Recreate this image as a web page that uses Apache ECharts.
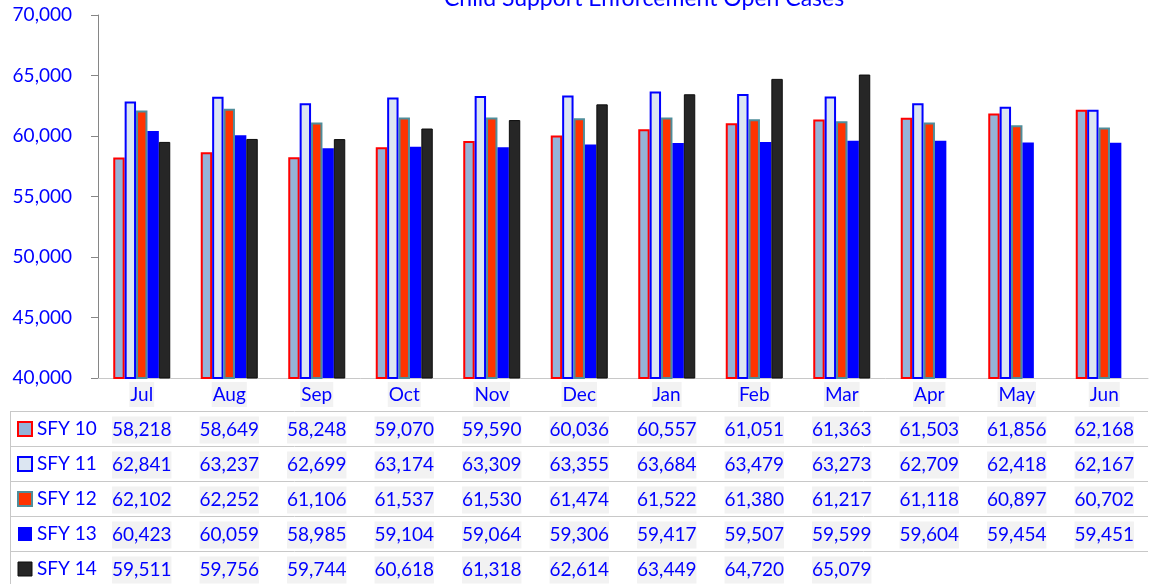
<!DOCTYPE html>
<html>
<head>
<meta charset="utf-8">
<script src="https://cdn.jsdelivr.net/npm/echarts@6/dist/echarts.min.js"></script>
<style>
  html, body { margin: 0; padding: 0; background: #fff; }
  #chart { width: 1150px; height: 584px; }
</style>
</head>
<body>
<div id="chart"></div>
<script>
const months = ['Jul', 'Aug', 'Sep', 'Oct', 'Nov', 'Dec', 'Jan', 'Feb', 'Mar', 'Apr', 'May', 'Jun']
const seriesNames = ['SFY 10', 'SFY 11', 'SFY 12', 'SFY 13', 'SFY 14']
const sfy10 = [58218, 58649, 58248, 59070, 59590, 60036, 60557, 61051, 61363, 61503, 61856, 62168]
const sfy11 = [62841, 63237, 62699, 63174, 63309, 63355, 63684, 63479, 63273, 62709, 62418, 62167]
const sfy12 = [62102, 62252, 61106, 61537, 61530, 61474, 61522, 61380, 61217, 61118, 60897, 60702]
const sfy13 = [60423, 60059, 58985, 59104, 59064, 59306, 59417, 59507, 59599, 59604, 59454, 59451]
const sfy14 = [59511, 59756, 59744, 60618, 61318, 62614, 63449, 64720, 65079, null, null, null]
const yMin = 40000
const yMax = 70000
const yStep = 5000

const allData = [sfy10, sfy11, sfy12, sfy13, sfy14]

// bar looks, same order as seriesNames
const looks = [
  { color: '#95b3d7', borderColor: '#ff0000', borderWidth: 2 },
  { color: '#dce6f2', borderColor: '#0000ff', borderWidth: 2 },
  { color: '#ff3300', borderColor: '#4f8d9a', borderWidth: 2 },
  { color: '#0000ff', borderColor: '#0000ff', borderWidth: 0 },
  { color: '#262626', borderColor: '#0d0d0d', borderWidth: 1 }
]

const FONT = 'Lato'
const BLUE = '#0000ff'
const LINE = '#c8c8c8'
const plotLeft = 98
const plotRight = 1148
const axisY = 378
const rowTop = 411.5
const rowH = 35

const fmt = v => (v == null ? '' : v.toLocaleString('en-US'))

const chart = echarts.init(document.getElementById('chart'))

// table rows: one extra category axis per series
const rowAxes = allData.map((vals, k) => ({
  type: 'category',
  data: months,
  gridIndex: 0,
  position: 'bottom',
  offset: rowTop + rowH * k - axisY,
  axisLine: { show: false },
  axisTick: { show: false },
  axisLabel: {
    interval: 0,
    margin: 7,
    formatter: (v, i) => (vals[i] == null ? '' : '{v|' + fmt(vals[i]) + '}'),
    rich: {
      v: {
        fontFamily: FONT, fontSize: 19, color: BLUE,
        backgroundColor: '#f2f2f2', lineHeight: 23, padding: [4, 0]
      }
    }
  }
}))

const tableLines = []
for (let k = 0; k < 5; k++) {
  tableLines.push({
    type: 'line',
    shape: { x1: 10, y1: rowTop + rowH * k, x2: plotRight, y2: rowTop + rowH * k },
    style: { stroke: LINE, lineWidth: 1 }
  })
}
tableLines.push({
  type: 'line',
  shape: { x1: 10.5, y1: rowTop, x2: 10.5, y2: 584 },
  style: { stroke: LINE, lineWidth: 1 }
})

const option = {
  animation: false,
  title: {
    text: 'Child Support Enforcement Open Cases',
    left: 444,
    top: -13,
    padding: 0,
    textStyle: { fontFamily: FONT, fontSize: 23, fontWeight: 'normal', color: BLUE }
  },
  legend: {
    orient: 'vertical',
    left: 17,
    top: rowTop + 6,
    padding: 0,
    height: 170,
    itemWidth: 14,
    itemHeight: 14,
    itemGap: 12,
    textStyle: { fontFamily: FONT, fontSize: 19, color: BLUE, lineHeight: 23 },
    data: seriesNames.map((name, i) => ({ name, icon: 'rect', itemStyle: looks[i] }))
  },
  grid: { left: plotLeft, right: 1150 - plotRight, top: 15, bottom: 584 - axisY },
  xAxis: [
    {
      type: 'category',
      data: months,
      axisLine: { lineStyle: { color: LINE } },
      axisTick: { length: 584 - axisY, lineStyle: { color: LINE } },
      axisLabel: {
        interval: 0,
        margin: 4,
        fontFamily: FONT, fontSize: 19, color: BLUE,
        backgroundColor: '#f2f2f2', lineHeight: 21, padding: [2, 1]
      }
    },
    ...rowAxes
  ],
  yAxis: {
    type: 'value',
    min: yMin,
    max: yMax,
    interval: yStep,
    axisLine: { show: true, lineStyle: { color: '#868686' } },
    axisTick: { show: true, length: 7, lineStyle: { color: '#868686' } },
    splitLine: { show: false },
    axisLabel: {
      margin: 26,
      fontFamily: FONT, fontSize: 19, color: BLUE,
      formatter: v => fmt(v)
    }
  },
  graphic: tableLines,
  series: seriesNames.map((name, i) => ({
    name,
    type: 'bar',
    xAxisIndex: 0,
    data: allData[i],
    barWidth: 11.4,
    barGap: '0%',
    itemStyle: looks[i]
  }))
}

chart.setOption(option)
</script>
</body>
</html>
